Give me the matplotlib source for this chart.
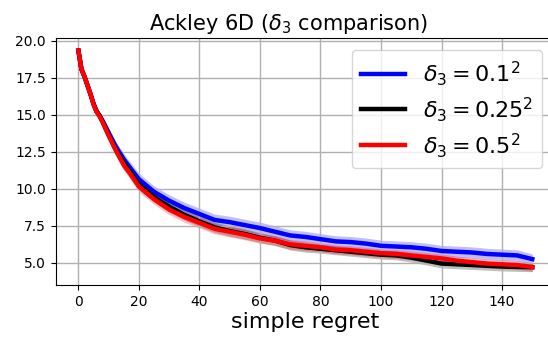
import numpy as np
import matplotlib
matplotlib.use("Agg")
import matplotlib.pyplot as plt

iters = [0, 1, 2, 3, 4, 5, 6, 7, 8, 10, 12, 13, 15, 17, 20, 25, 30, 35, 40, 45, 50, 55, 60, 65, 70, 75,
         80, 85, 90, 95, 100, 105, 110, 115, 120, 125, 130, 135, 140, 145, 150]

blue_mean = [19.35, 18.1, 17.6, 17.0, 16.4, 15.75, 15.25, 14.95, 14.6, 13.8, 13.0, 12.65, 12.0, 11.45,
             10.65, 9.8, 9.2, 8.7, 8.3, 7.9, 7.75, 7.55,
             7.35, 7.1, 6.85, 6.75, 6.6, 6.45, 6.4, 6.3, 6.15, 6.1, 6.05, 5.95,
             5.8, 5.75, 5.7, 5.6, 5.55, 5.5, 5.25]
blue_std = [0.05, 0.05, 0.08, 0.1, 0.12, 0.15, 0.18, 0.2, 0.25, 0.3, 0.33, 0.35, 0.38, 0.4,
            0.4, 0.4, 0.4, 0.4, 0.4, 0.4, 0.4, 0.4,
            0.4, 0.4, 0.38, 0.38, 0.38, 0.38, 0.38, 0.38, 0.38, 0.38, 0.38, 0.38,
            0.38, 0.38, 0.38, 0.38, 0.38, 0.38, 0.35]

black_mean = [19.35, 18.1, 17.6, 17.0, 16.4, 15.75, 15.25, 14.95, 14.55, 13.65, 12.8, 12.45, 11.75, 11.2,
              10.3, 9.45, 8.8, 8.25, 7.8, 7.4, 7.15, 6.95,
              6.7, 6.5, 6.2, 6.05, 5.95, 5.85, 5.75, 5.65, 5.55, 5.5, 5.35, 5.15,
              4.95, 4.9, 4.85, 4.8, 4.75, 4.72, 4.7]
black_std = [0.05, 0.05, 0.08, 0.1, 0.12, 0.15, 0.18, 0.2, 0.25, 0.3, 0.32, 0.33, 0.35, 0.35,
             0.35, 0.35, 0.35, 0.35, 0.35, 0.35, 0.35, 0.35,
             0.33, 0.33, 0.33, 0.33, 0.3, 0.3, 0.3, 0.3, 0.3, 0.3, 0.3, 0.3,
             0.3, 0.3, 0.3, 0.3, 0.3, 0.3, 0.3]

red_mean = [19.35, 18.1, 17.6, 17.0, 16.4, 15.7, 15.2, 14.9, 14.5, 13.6, 12.75, 12.35, 11.6, 11.05,
            10.15, 9.3, 8.6, 8.1, 7.7, 7.3, 7.1, 6.9,
            6.65, 6.5, 6.25, 6.15, 6.05, 5.9, 5.85, 5.75, 5.65, 5.6, 5.5, 5.4,
            5.3, 5.15, 5.05, 4.95, 4.9, 4.85, 4.72]
red_std = [0.05, 0.05, 0.08, 0.1, 0.12, 0.15, 0.18, 0.2, 0.25, 0.3, 0.32, 0.33, 0.35, 0.35,
           0.35, 0.35, 0.35, 0.35, 0.35, 0.35, 0.35, 0.35,
           0.33, 0.33, 0.33, 0.33, 0.3, 0.3, 0.3, 0.3, 0.3, 0.3, 0.3, 0.3,
           0.3, 0.3, 0.3, 0.3, 0.3, 0.3, 0.3]

labels = [r"$\delta_3 = 0.1^2$", r"$\delta_3 = 0.25^2$", r"$\delta_3 = 0.5^2$"]
colors = ["blue", "black", "red"]

W_PX, H_PX = 548, 337
fig = plt.figure(figsize=(W_PX / 100, H_PX / 100), dpi=100)
ax_left, ax_right, ax_top, ax_bottom = 55.7, 555.0, 38.0, 285.0
ax = fig.add_axes([ax_left / W_PX, 1 - ax_bottom / H_PX,
                   (ax_right - ax_left) / W_PX, (ax_bottom - ax_top) / H_PX])

x = np.array(iters)
for m, s, c, lab in zip([blue_mean, black_mean, red_mean],
                        [blue_std, black_std, red_std], colors, labels):
    m = np.array(m); s = np.array(s)
    ax.fill_between(x, m - s, m + s, color=c, alpha=0.25, linewidth=0)
    ax.plot(x, m, color=c, linewidth=3.2, label=lab)

ax.set_xlim(-7.5, 157.5)
ax.set_ylim(3.5, 20.2)
ax.set_xticks([0, 20, 40, 60, 80, 100, 120, 140])
ax.set_yticks([5.0, 7.5, 10.0, 12.5, 15.0, 17.5, 20.0])
ax.grid(True, color="#b0b0b0", linewidth=1.0)
ax.tick_params(labelsize=10)
ax.set_title(r"Ackley 6D ($\delta_3$ comparison)", fontsize=15,
             x=(289 - ax_left) / (ax_right - ax_left))
ax.set_xlabel("simple regret", fontsize=16, labelpad=2)
ax.legend(loc="upper right", fontsize=16, labelspacing=0.32,
          bbox_to_anchor=(542 / W_PX, 1 - 50 / H_PX),
          bbox_transform=fig.transFigure, borderaxespad=0)

fig.savefig("out.png", dpi=100)
